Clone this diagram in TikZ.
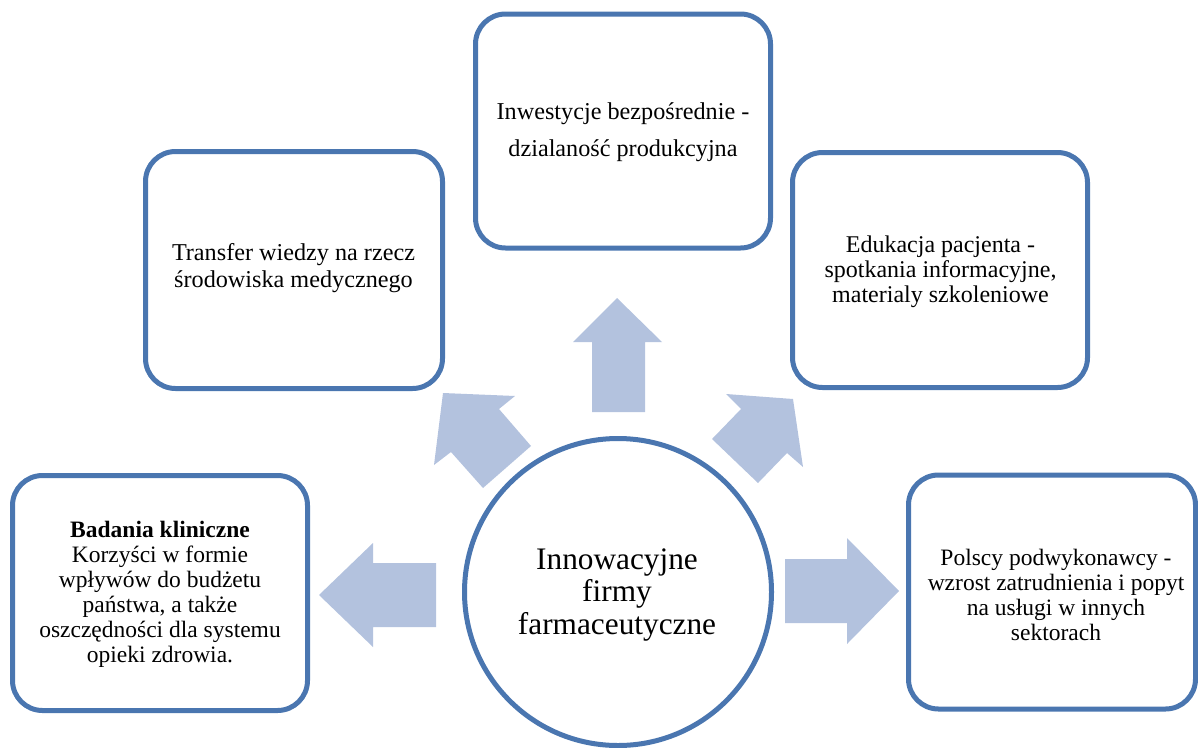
\documentclass[tikz,border=0pt]{standalone}
\usepackage{fontspec}
\setmainfont{Liberation Serif}
\definecolor{edge}{RGB}{74,118,176}
\definecolor{arrowfill}{RGB}{179,194,222}
\tikzset{
  box/.style={draw=edge, line width=5pt, rounded corners=30pt, fill=white, inner sep=0pt},
  boxtext/.style={align=center, font=\fontsize{23.5}{25}\selectfont, text=black},
  hub/.style={circle, draw=edge, line width=5pt, fill=white, minimum size=307pt, inner sep=0pt},
  blockarrow/.style={fill=arrowfill, draw=none}
}
\begin{document}
\begin{tikzpicture}[x=1pt,y=-1pt]
\useasboundingbox (0,0) rectangle (1198,747);
% boxes
\node[box, minimum width=295pt, minimum height=234pt] (top) at (623,131) {};
\node[box, minimum width=297pt, minimum height=237pt] (ul) at (294,270) {};
\node[box, minimum width=295pt, minimum height=235pt] (ur) at (940,270) {};
\node[box, minimum width=295pt, minimum height=235pt] (ll) at (160,593) {};
\node[box, minimum width=287pt, minimum height=234pt] (lr) at (1052,592) {};
% hub
\node[hub] (hub) at (618,592) {};
% arrows
\fill[blockarrow] (617,298) -- (662,342) -- (645,342) -- (645,412) -- (592,412) -- (592,342) -- (573,342) -- cycle;
\fill[blockarrow] (319,595) -- (373,543) -- (373,563) -- (436,563) -- (436,627) -- (373,627) -- (373,647) -- cycle;
\fill[blockarrow] (899,591) -- (847,538) -- (847,559) -- (785,559) -- (785,623) -- (847,623) -- (847,644) -- cycle;
\fill[blockarrow] (443,393) -- (515,396) -- (499,409) -- (531,446) -- (483,488) -- (451,452) -- (434,465) -- cycle;
\fill[blockarrow] (793,399) -- (803,467) -- (787,453) -- (758,483) -- (712,439) -- (741,409) -- (726,394) -- cycle;
% texts
\node[boxtext, font=\fontsize{24.2}{37}\selectfont] (toptext) at (623,132) {Inwestycje bezpośrednie -\\dzialaność produkcyjna};
\node[boxtext, font=\fontsize{24.2}{27}\selectfont] (ultext) at (293.5,268) {Transfer wiedzy na rzecz\\środowiska medycznego};
\node[boxtext, font=\fontsize{24}{25}\selectfont] (urtext) at (940.5,271.5) {Edukacja pacjenta -\\spotkania informacyjne,\\materialy szkoleniowe};
\node[boxtext] (lltext) at (160,594) {\textbf{Badania kliniczne}\\Korzyści w formie\\wpływów do budżetu\\państwa, a także\\oszczędności dla systemu\\opieki zdrowia.};
\node[boxtext] (lrtext) at (1056,594.5) {Polscy podwykonawcy -\\wzrost zatrudnienia i popyt\\na usługi w innych\\sektorach};
\node[align=center, font=\fontsize{31.3}{32.5}\selectfont] (hubtext) at (617,595) {Innowacyjne\\firmy\\farmaceutyczne};
\end{tikzpicture}
\end{document}
